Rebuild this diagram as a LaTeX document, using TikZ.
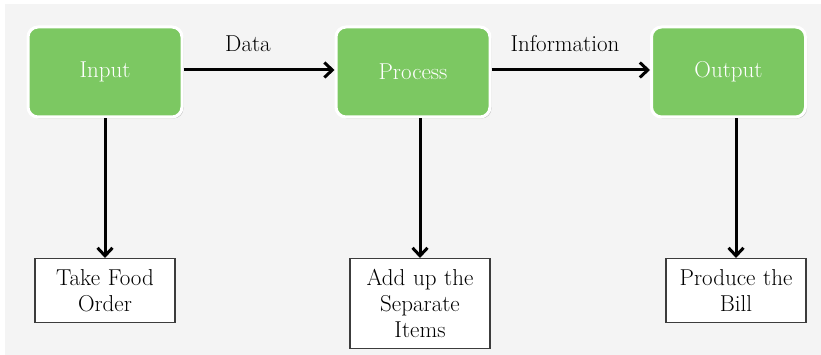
\documentclass[tikz,border=0pt]{standalone}
\usetikzlibrary{arrows.meta,shadows}
\definecolor{bggray}{RGB}{244,244,244}
\definecolor{boxgreen}{RGB}{124,200,98}
\definecolor{edgegray}{RGB}{60,60,60}
\tikzset{
  greenbox/.style={rounded corners=10pt, fill=boxgreen, draw=white, line width=3pt,
    minimum width=154pt, minimum height=90pt, inner sep=0pt, text=white,
    drop shadow={shadow xshift=1.5pt, shadow yshift=-1.5pt, fill=black!35, opacity=0.6},
    font=\fontsize{23}{26}\selectfont},
  taskbox/.style={draw=edgegray, line width=1.2pt, fill=white, minimum width=140pt,
    text width=136pt, align=center, inner sep=0pt, anchor=north,
    font=\fontsize{23}{26}\selectfont},
  flow/.style={line width=3pt, -{Straight Barb[length=8pt,width=15pt,line width=3pt]}},
  flowlabel/.style={font=\fontsize{23}{26}\selectfont, inner sep=0pt}
}
\begin{document}
\begin{tikzpicture}[x=1pt,y=-1pt]
\useasboundingbox (0,0) rectangle (821,355);
\fill[white] (0,0) rectangle (821,355);
\fill[bggray] (5,4) rectangle (821,355);
\node[greenbox] (in) at (105,72) {Input};
\node[greenbox] (pr) at (413,72) {Process};
\node[greenbox] (out) at (728.5,72) {Output};
\node[taskbox, minimum height=64pt] (t1) at (105,258) {Take Food\\Order};
\node[taskbox, minimum height=90pt] (t2) at (420,258) {Add up the\\Separate\\Items};
\node[taskbox, minimum height=64pt] (t3) at (736,258) {Produce the\\Bill};
\node[flowlabel] (ldata) at (248,44) {Data};
\node[flowlabel] (linfo) at (565,44) {Information};
\draw[flow] ([yshift=2pt]in.east) -- ([yshift=2pt]pr.west);
\draw[flow] ([yshift=2pt]pr.east) -- ([yshift=2pt]out.west);
\draw[flow] (in.south) -- (t1.north);
\draw[flow] (t2.north |- pr.south) -- (t2.north);
\draw[flow] (t3.north |- out.south) -- (t3.north);
\end{tikzpicture}
\end{document}
